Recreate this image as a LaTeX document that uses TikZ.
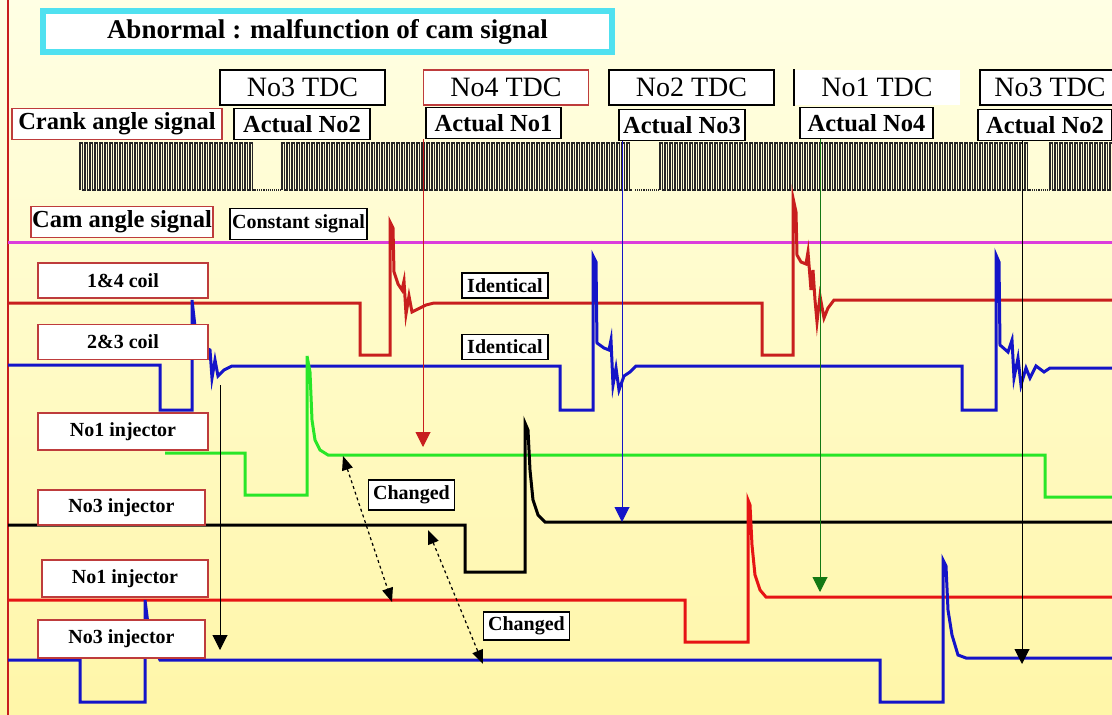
\documentclass[tikz,border=0pt]{standalone}
\usepackage{fontspec}
\setmainfont{Liberation Serif}
\usetikzlibrary{positioning,arrows.meta}

\definecolor{coilred}{RGB}{200,30,30}
\definecolor{injred}{RGB}{230,20,20}
\definecolor{sigblue}{RGB}{20,20,200}
\definecolor{siggreen}{RGB}{40,230,40}
\definecolor{arrgreen}{RGB}{20,120,20}
\definecolor{cammag}{RGB}{220,60,220}
\definecolor{boxred}{RGB}{190,60,60}
\definecolor{titlecyan}{RGB}{80,225,240}
\definecolor{bgtop}{RGB}{255,255,228}
\definecolor{bgbot}{RGB}{255,246,168}

\tikzset{
  big/.style={font=\fontsize{24.5}{26}\selectfont\bfseries},
  small/.style={font=\fontsize{20}{22}\selectfont\bfseries},
  titlebox/.style={draw=titlecyan, line width=6pt, fill=white, minimum width=569pt, minimum height=41pt, inner sep=1pt, font=\fontsize{27}{29}\selectfont\bfseries},
  tdc/.style={draw=black, line width=1.5pt, fill=white, minimum width=165pt, minimum height=35pt, inner sep=1pt, font=\fontsize{28}{30}\selectfont},
  actual/.style={draw=black, line width=1.5pt, fill=white, minimum height=31pt, inner sep=1pt, big},
  sigbox/.style={draw=boxred, line width=1.5pt, fill=white, minimum width=170pt, minimum height=35pt, inner sep=1pt, small},
  note/.style={draw=black, line width=1.5pt, fill=white, minimum width=86pt, minimum height=25pt, inner sep=1pt, small},
  wave/.style={line width=3pt},
  tooth/.style={line width=1.1pt, black!85},
  tdcline/.style={line width=1pt, -{Triangle[width=15pt,length=15pt]}},
  change/.style={line width=1.2pt, dashed, {Triangle[width=11pt,length=14pt]}-{Triangle[width=11pt,length=14pt]}}
}

\begin{document}
\begin{tikzpicture}[x=1pt, y=-1pt]
  \path[use as bounding box] (0,0) rectangle (1112,715) ;
  \clip (0,0) rectangle (1112,715) ;
  \shade[top color=bgtop, bottom color=bgbot] (0,0) rectangle (1112,715) ;
  \draw[coilred, line width=1.5pt] (8,0) -- (8,715) ;

  % crank teeth
  \draw[tooth] (80,190) \foreach \x in {80,85,...,250} { -- (\x,143) -- (\x+2.5,143) -- (\x+2.5,190) -- (\x+5,190) } ;
  \draw[tooth] (282,190) \foreach \x in {282,287,...,630} { -- (\x,143) -- (\x+2.5,143) -- (\x+2.5,190) -- (\x+5,190) } ;
  \draw[tooth] (660,190) \foreach \x in {660,665,...,1025} { -- (\x,143) -- (\x+2.5,143) -- (\x+2.5,190) -- (\x+5,190) } ;
  \draw[tooth] (1050,190) \foreach \x in {1050,1055,...,1110} { -- (\x,143) -- (\x+2.5,143) -- (\x+2.5,190) -- (\x+5,190) } ;
  \draw[tooth, densely dotted] (255,190) -- (282,190) (635,190) -- (660,190) (1030,190) -- (1050,190) ;

  \draw[cammag, line width=3pt] (8,242) -- (1112,242) ;

  \draw[wave, coilred] (8,303) -- (360,303) -- (360,355) -- (390,355) -- (390,222) -- (393,228) -- (394,272) -- (398,284) -- (402,290) -- (404,281) -- (406,314) -- (409,296) -- (412,312) -- (418,309) -- (426,305) -- (434,303) -- (762,303) -- (762,355) -- (793,355) -- (793,198) -- (796,212) -- (797,255) -- (801,262) -- (806,264) -- (808,252) -- (811,290) -- (813,270) -- (815,300) -- (817,322) -- (820,296) -- (824,318) -- (828,308) -- (834,300) -- (1112,300) ;
  \draw[wave, sigblue] (8,365) -- (160,365) -- (160,410) -- (192,410) -- (192,300) -- (196,335) -- (206,348) -- (210,350) -- (212,378) -- (215,360) -- (218,376) -- (224,370) -- (232,366) -- (560,366) -- (560,410) -- (593,410) -- (593,256) -- (596,262) -- (597,343) -- (604,348) -- (609,350) -- (611,340) -- (613,385) -- (616,368) -- (619,390) -- (624,376) -- (630,372) -- (636,366) -- (962,366) -- (962,410) -- (996,410) -- (996,255) -- (999,262) -- (1000,345) -- (1008,352) -- (1012,340) -- (1014,378) -- (1018,358) -- (1021,385) -- (1026,368) -- (1030,378) -- (1036,366) -- (1044,372) -- (1050,368) -- (1112,368) ;
  \draw[wave, siggreen] (165,453) -- (245,453) -- (245,495) -- (307,495) -- (307,356) -- (310,372) -- (312,420) -- (315,440) -- (320,450) -- (328,455) -- (1045,455) -- (1045,497) -- (1112,497) ;
  \draw[wave, black] (8,525) -- (465,525) -- (465,572) -- (525,572) -- (525,423) -- (528,430) -- (530,470) -- (533,500) -- (538,515) -- (545,522) -- (1112,522) ;
  \draw[wave, injred] (8,600) -- (685,600) -- (685,642) -- (748,642) -- (748,500) -- (750,505) -- (752,545) -- (755,575) -- (760,590) -- (766,597) -- (1112,597) ;
  \draw[wave, sigblue] (8,660) -- (80,660) -- (80,702) -- (145,702) -- (145,600) -- (150,640) -- (160,660) -- (880,660) -- (880,702) -- (943,702) -- (943,560) -- (946,566) -- (948,610) -- (952,635) -- (958,655) -- (966,658) -- (1112,658) ;

  \node[titlebox] (title) at (327.5,31.5) {Abnormal : malfunction of cam signal} ;

  \node[tdc] (tdc3) at (302.5,87.5) {No3 TDC} ;
  \node[tdc, draw=boxred, right=37pt of tdc3] (tdc4) {No4 TDC} ;
  \node[tdc, right=19pt of tdc4] (tdc2) {No2 TDC} ;
  \node[tdc, draw=none] (tdc1) at (877,87.5) {No1 TDC} ;
  \draw[line width=1.5pt] (tdc1.north west) -- (tdc1.south west) ;
  \node[tdc, minimum width=140pt] (tdc3b) at (1050,87.5) {No3 TDC} ;

  \node[actual, draw=boxred, minimum width=210pt] (crank) at (117,124) {Crank angle signal} ;
  \node[actual, minimum width=136pt] (act2) at (302,124) {Actual No2} ;
  \node[actual, minimum width=135pt] (act1) at (493.5,123) {Actual No1} ;
  \node[actual, minimum width=126pt] (act3) at (682,125) {Actual No3} ;
  \node[actual, minimum width=133pt] (act4) at (866.5,123) {Actual No4} ;
  \node[actual, minimum width=134pt] (act2b) at (1045,125) {Actual No2} ;

  \node[actual, draw=boxred, minimum width=175pt] (cam) at (122,222) {Cam angle signal} ;
  \node[actual, small, minimum width=137pt] (const) at (298.5,224) {Constant signal} ;

  \node[sigbox] (coil14) at (123,280.5) {1\&4 coil} ;
  \node[sigbox, below=25pt of coil14] (coil23) {2\&3 coil} ;
  \node[sigbox, minimum height=37pt] (inj1) at (123,431.5) {No1 injector} ;
  \node[sigbox, minimum width=167pt] (inj3) at (121.5,507.5) {No3 injector} ;
  \node[sigbox, minimum width=166pt, minimum height=37pt] (inj1b) at (125,578.5) {No1 injector} ;
  \node[sigbox, minimum width=167pt, minimum height=38pt] (inj3b) at (121.5,639) {No3 injector} ;

  \node[note] (same14) at (505,285.5) {Identical} ;
  \node[note, below=35pt of same14] (same23) {Identical} ;
  \node[note, minimum height=30pt] (chg1) at (411.5,495) {Changed} ;
  \node[note, minimum height=28pt] (chg2) at (526.5,626) {Changed} ;

  \coordinate (rtip) at (423,447) ;
  \coordinate (btip) at (622,522) ;
  \coordinate (gtip) at (820,592) ;
  \coordinate (ktip) at (1022,664) ;
  \coordinate (kstart) at (220,385) ;
  \coordinate (ktip0) at (220,650) ;
  \coordinate (c1a) at (343,456) ;
  \coordinate (c1b) at (392,602) ;
  \coordinate (c2a) at (428,530) ;
  \coordinate (c2b) at (483,664) ;

  \draw[tdcline, coilred] (act1.south -| rtip) -- (rtip) ;
  \draw[tdcline, sigblue] (act3.south -| btip) -- (btip) ;
  \draw[tdcline, arrgreen] (act4.south -| gtip) -- (gtip) ;
  \draw[tdcline] (act2b.south -| ktip) -- (ktip) ;
  \draw[tdcline] (kstart) -- (ktip0) ;
  \draw[change] (c1a) -- (c1b) ;
  \draw[change] (c2a) -- (c2b) ;
\end{tikzpicture}
\end{document}
